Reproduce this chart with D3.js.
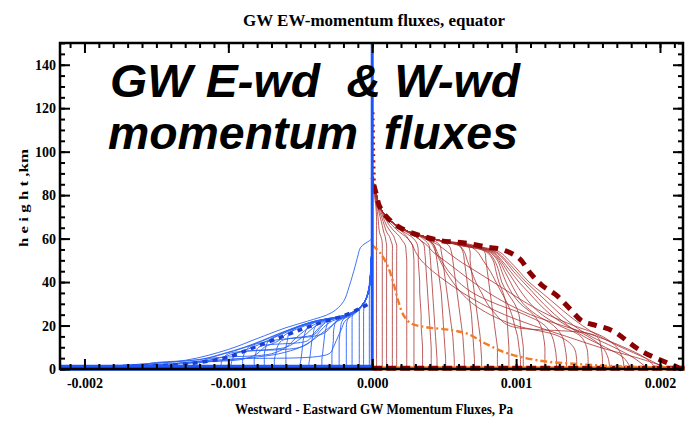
<!DOCTYPE html>
<html><head><meta charset="utf-8">
<script src="https://cdn.jsdelivr.net/npm/d3@7"></script>
<style>
html,body{margin:0;padding:0;background:#fff;}
svg{display:block;}
.serif{font-family:"Liberation Serif","Times New Roman",serif;font-weight:bold;}
</style></head>
<body>
<svg id="chart" width="685" height="422"></svg>
<script>
// ---------- DATA (flux values in units of 1e-4 Pa, heights in km) ----------
const UNIT = 1e-4;
const xTickValues = [-0.002, -0.001, 0, 0.001, 0.002];
const xTickLabels = ["-0.002", "-0.001", "0.000", "0.001", "0.002"];
const yTickValues = [0, 20, 40, 60, 80, 100, 120, 140];
const yTickLabels = ["0", "20", "40", "60", "80", "100", "120", "140"];

// Eastward (positive) flux profiles, sampled at these heights
const eastHeights = [0, 5, 10, 15, 20, 25, 30, 35, 40, 45, 50, 54, 57, 59, 61, 63, 66, 70, 75, 80, 85, 90];
const eastProfiles = [
  [0.3,0.3,0.3,0.3,0.3,0.3,0.3,0.3,0.3,0.3,0.3,0.3,0.3,0.3,0.3,0.3,0.3,0.3,0.25,0.15,0.05,0],
  [0.7,0.7,0.7,0.7,0.7,0.7,0.7,0.7,0.7,0.7,0.7,0.7,0.7,0.68,0.6,0.5,0.45,0.4,0.3,0.2,0.08,0],
  [1.0,1.0,1.0,1.0,1.0,1.0,1.0,1.0,1.0,1.0,1.0,1.0,1.0,0.95,0.9,0.8,0.7,0.55,0.35,0.22,0.08,0],
  [1.4,1.4,1.4,1.4,1.4,1.4,1.4,1.4,1.4,1.4,1.4,1.4,1.4,1.3,1.2,1.0,0.85,0.65,0.4,0.25,0.1,0],
  [1.7,1.7,1.7,1.7,1.7,1.7,1.7,1.7,1.7,1.7,1.7,1.7,1.7,1.6,1.5,1.3,1.0,0.75,0.45,0.27,0.1,0],
  [2.4,2.4,2.4,2.4,2.4,2.4,2.4,2.4,2.4,2.4,2.4,2.35,2.3,2.1,1.9,1.6,1.2,0.85,0.48,0.28,0.1,0],
  [2.9,2.9,2.9,2.9,2.9,2.9,2.9,2.9,2.9,2.9,2.9,2.85,2.8,2.6,2.3,1.9,1.4,0.9,0.5,0.3,0.1,0],
  [3.5,3.5,3.5,3.45,3.4,3.4,3.35,3.3,3.3,3.25,3.2,3.2,3.15,3.0,2.7,2.2,1.6,1.0,0.5,0.3,0.1,0],
  [4.1,4.1,4.1,4.05,4.0,3.95,3.9,3.85,3.8,3.75,3.7,3.65,3.6,3.4,3.0,2.5,1.7,1.0,0.5,0.3,0.1,0],
  [4.5,4.5,4.45,4.4,4.35,4.3,4.25,4.2,4.15,4.1,4.05,4.0,3.95,3.7,3.3,2.6,1.7,1.0,0.5,0.3,0.1,0],
  [5.1,5.1,5.05,5.0,4.95,4.9,4.85,4.8,4.7,4.6,4.5,4.4,4.3,4.0,3.5,2.6,1.7,1.0,0.5,0.3,0.1,0],
  [5.7,5.7,5.65,5.6,5.5,5.4,5.3,5.2,5.1,5.0,4.9,4.8,4.7,4.3,3.6,2.6,1.7,1.0,0.5,0.3,0.1,0],
  [6.4,6.4,6.35,6.3,6.2,6.1,6.0,5.9,5.8,5.7,5.6,5.5,5.3,4.6,3.6,2.6,1.7,1.0,0.5,0.3,0.1,0],
  [7.1,7.1,7.05,7.0,6.95,6.9,6.8,6.7,6.6,6.5,6.4,6.3,6.0,4.8,3.6,2.6,1.7,1.0,0.5,0.3,0.1,0],
  [7.6,7.6,7.55,7.5,7.4,7.3,7.2,7.1,7.0,6.9,6.8,6.8,6.6,4.8,3.6,2.6,1.7,1.0,0.5,0.3,0.1,0],
  [8.7,8.7,8.7,8.6,8.5,8.4,8.3,8.2,8.1,8.0,7.9,7.8,7.0,4.8,3.6,2.6,1.7,1.0,0.5,0.3,0.1,0],
  [9.5,9.5,9.5,9.45,9.4,9.35,9.3,9.1,8.8,8.6,8.4,7.9,6.0,4.8,3.6,2.6,1.7,1.0,0.5,0.3,0.1,0],
  [10.3,10.3,10.2,10.1,9.9,9.7,9.4,9.0,8.6,8.2,7.7,7.3,6.6,4.8,3.6,2.6,1.7,1.0,0.5,0.3,0.1,0],
  [10.5,10.5,10.5,10.4,10.3,10.2,9.9,9.4,9.0,8.8,8.5,8.0,6.0,4.8,3.6,2.6,1.7,1.0,0.5,0.3,0.1,0],
  [12.0,12.0,12.0,11.9,11.7,11.2,10.3,9.7,9.3,9.0,8.7,8.1,6.2,4.8,3.6,2.6,1.7,1.0,0.5,0.3,0.1,0],
  [12.8,12.8,12.7,12.5,12.0,10.6,8.6,7.0,6.0,5.3,4.8,4.5,4.3,4.0,3.5,2.6,1.7,1.0,0.5,0.3,0.1,0],
  [13.5,13.5,13.4,13.2,12.6,11.4,10.5,10.0,9.6,9.2,8.8,8.2,6.3,4.8,3.6,2.6,1.7,1.0,0.5,0.3,0.1,0],
  [14.2,14.2,14.0,13.0,10.0,8.2,7.0,6.2,5.6,5.1,4.7,4.4,4.2,3.9,3.4,2.6,1.7,1.0,0.5,0.3,0.1,0],
  [15.0,15.0,14.9,14.5,13.0,11.8,11.0,10.4,9.9,9.4,8.9,8.3,6.4,4.8,3.6,2.6,1.7,1.0,0.5,0.3,0.1,0],
  [16.0,16.0,15.9,15.6,9.5,8.6,8.0,7.6,7.2,6.9,6.6,6.4,6.0,4.8,3.6,2.6,1.7,1.0,0.5,0.3,0.1,0],
  [16.5,16.4,16.0,15.0,13.5,12.4,11.6,10.9,10.2,9.6,9.0,8.4,6.5,4.8,3.6,2.6,1.7,1.0,0.5,0.3,0.1,0],
  [17.5,17.4,17.0,16.0,14.0,12.2,10.8,9.6,8.4,7.2,6.0,5.2,4.6,4.0,3.4,2.6,1.7,1.0,0.5,0.3,0.1,0],
  [18.0,17.5,16.2,14.7,13.6,12.7,11.9,11.2,10.5,9.8,9.2,8.5,6.6,4.8,3.6,2.6,1.7,1.0,0.5,0.3,0.1,0],
  [19.2,18.2,16.8,15.2,14.0,13.1,12.3,11.5,10.7,10.0,9.3,8.6,6.7,4.8,3.6,2.6,1.7,1.0,0.5,0.3,0.1,0],
  [19.8,19.0,17.5,15.6,13.2,11.0,9.4,8.1,7.0,6.0,5.0,4.2,3.8,3.4,3.0,2.4,1.7,1.0,0.5,0.3,0.1,0],
  [20.5,19.0,17.3,15.8,14.6,13.6,12.7,11.8,10.9,10.2,9.5,8.8,6.8,4.8,3.6,2.6,1.7,1.0,0.5,0.3,0.1,0],
  [20.8,18.5,15.8,13.5,11.2,9.2,7.6,6.3,5.2,4.2,3.4,3.0,2.8,2.6,2.4,2.1,1.6,1.0,0.5,0.3,0.1,0]
];
// Thick dashed eastward envelope [flux, height]
const eastEnvelope = [[21.5,0],[20.8,2],[18.7,8.3],[16.7,17.6],[15.6,20],[14.6,22],[13.7,28],[12.8,34],[11.8,38.5],[11.0,44],[10.2,51],[9.0,55],[8.0,56],[6.9,57.5],[5.8,58.4],[4.8,59],[3.7,60.7],[2.6,63],[1.7,66],[1.0,70],[0.5,75],[0.3,80],[0.1,85],[0,88]];
// Orange dash-dot profile [flux, height]
const orangeProfile = [[0,57],[0.6,53],[1.1,47],[1.5,39],[1.8,31.5],[2.2,24.5],[2.7,21],[3.7,19.3],[5.6,17.8],[6.7,16],[7.9,11.6],[9.5,7],[11.8,3.7],[14.2,2.3],[16.5,1.4],[19.0,0.8],[21.5,0.5]];

// Westward (negative) flux profiles, sampled at these heights
const westHeights = [0, 1, 2.5, 4.5, 7, 10, 13, 16, 19, 22, 25, 28, 32, 37, 45, 52, 60];
const westProfiles = [
  [-0.2,-0.2,-0.2,-0.2,-0.2,-0.2,-0.2,-0.2,-0.2,-0.2,-0.2,-0.2,-0.2,-0.18,-0.1,-0.05,0],
  [-0.6,-0.6,-0.6,-0.6,-0.6,-0.6,-0.6,-0.6,-0.6,-0.6,-0.6,-0.58,-0.45,-0.25,-0.12,-0.05,0],
  [-0.9,-0.9,-0.9,-0.9,-0.9,-0.9,-0.9,-0.9,-0.9,-0.9,-0.9,-0.85,-0.45,-0.22,-0.1,-0.05,0],
  [-1.4,-1.4,-1.4,-1.4,-1.4,-1.4,-1.4,-1.4,-1.4,-1.4,-1.35,-0.9,-0.45,-0.22,-0.1,-0.05,0],
  [-1.8,-1.8,-1.8,-1.8,-1.8,-1.8,-1.8,-1.8,-1.8,-1.75,-1.5,-0.85,-0.45,-0.22,-0.1,-0.05,0],
  [-2.3,-2.3,-2.3,-2.3,-2.3,-2.3,-2.3,-2.25,-2.2,-2.1,-1.6,-0.9,-0.45,-0.22,-0.1,-0.05,0],
  [-2.8,-2.8,-2.8,-2.8,-2.8,-2.75,-2.7,-2.7,-2.65,-2.5,-1.6,-0.9,-0.45,-0.22,-0.1,-0.05,0],
  [-3.5,-3.5,-3.5,-3.5,-3.45,-3.4,-3.35,-3.3,-3.2,-3.0,-1.7,-0.9,-0.45,-0.22,-0.1,-0.05,0],
  [-4.4,-4.4,-4.4,-4.35,-4.3,-4.25,-4.2,-4.1,-4.0,-3.5,-1.8,-0.9,-0.45,-0.22,-0.1,-0.05,0],
  [-5.0,-5.0,-5.0,-4.95,-4.9,-4.85,-4.8,-4.7,-4.5,-3.8,-1.8,-0.9,-0.45,-0.22,-0.1,-0.05,0],
  [-6.0,-6.0,-6.0,-6.0,-6.0,-6.0,-5.9,-5.8,-5.3,-4.0,-1.8,-0.9,-0.45,-0.22,-0.1,-0.05,0],
  [-6.8,-6.8,-6.8,-6.8,-6.7,-6.6,-6.3,-4.0,-3.6,-3.1,-1.7,-0.9,-0.45,-0.22,-0.1,-0.05,0],
  [-7.5,-7.5,-7.5,-7.5,-7.5,-7.4,-7.2,-6.4,-5.4,-3.9,-1.7,-0.9,-0.45,-0.22,-0.1,-0.05,0],
  [-8.2,-8.2,-8.2,-8.2,-8.1,-7.9,-4.5,-4.1,-3.7,-3.2,-1.6,-0.9,-0.45,-0.22,-0.1,-0.05,0],
  [-9.0,-9.0,-9.0,-9.0,-8.9,-8.6,-7.0,-3.5,-2.9,-2.5,-1.5,-0.9,-0.45,-0.22,-0.1,-0.05,0],
  [-9.8,-9.8,-9.8,-9.7,-9.5,-6.0,-5.2,-4.6,-4.1,-3.3,-1.6,-0.9,-0.45,-0.22,-0.1,-0.05,0],
  [-10.5,-10.5,-10.5,-10.4,-10.0,-5.0,-4.2,-3.8,-3.4,-2.8,-1.5,-0.9,-0.45,-0.22,-0.1,-0.05,0],
  [-12.0,-12.0,-12.0,-11.5,-7.0,-6.0,-5.5,-5.0,-4.4,-3.5,-1.7,-0.9,-0.45,-0.22,-0.1,-0.05,0],
  [-13.0,-13.0,-12.8,-10.0,-3.0,-2.7,-2.5,-2.3,-2.1,-1.9,-1.3,-0.8,-0.45,-0.22,-0.1,-0.05,0],
  [-14.0,-14.0,-13.5,-9.0,-8.0,-7.5,-6.5,-6.0,-5.0,-3.8,-1.7,-0.9,-0.45,-0.22,-0.1,-0.05,0],
  [-16.0,-16.0,-15.5,-11.8,-10.3,-8.8,-7.6,-6.5,-5.3,-3.9,-1.6,-0.9,-0.45,-0.22,-0.1,-0.05,0],
  [-18.0,-17.5,-14.0,-11.0,-9.6,-8.3,-7.3,-6.3,-5.2,-3.8,-1.6,-0.9,-0.45,-0.22,-0.1,-0.05,0],
  [-20.0,-18.5,-15.6,-11.9,-10.4,-8.9,-7.7,-6.6,-5.4,-4.0,-1.6,-0.9,-0.45,-0.22,-0.1,-0.05,0],
  [-21.7,-19.5,-13.0,-9.5,-6.5,-5.0,-4.2,-3.6,-3.0,-2.4,-1.4,-0.9,-0.45,-0.22,-0.1,-0.05,0]
];
// Westward profile that bows out at upper levels [flux, height]
const westLoop = [[-21.0,0.5],[-18,1.5],[-13,4],[-10,9],[-8,14],[-6,19],[-4.5,22],[-2.8,26],[-2.0,31],[-1.6,38],[-1.2,47],[-1.0,52],[-0.8,56],[-0.2,59],[0,60]];
// Thick dashed westward envelope [flux, height]
const westEnvelope = [[-21.5,0.8],[-17,1.2],[-13.5,2],[-12,3],[-10,5.5],[-8.2,10],[-6.4,14.5],[-4.8,18.5],[-3.5,21.5],[-2,24.5],[-0.8,28],[0,31]];

// ---------- CHART ----------
const svg = d3.select("#chart");
const x = d3.scaleLinear().domain([-0.00217, 0.00216]).range([60, 683]);
const y = d3.scaleLinear().domain([0, 150]).range([369, 43]);

const line = d3.line()
  .x(d => x(d[0] * UNIT))
  .y(d => y(d[1]))
  .curve(d3.curveCatmullRom.alpha(0.5));

const plot = svg.append("g");

// eastward thin curves
plot.selectAll("path.east").data(eastProfiles).join("path")
  .attr("class", "east")
  .attr("d", vals => line(vals.map((v, i) => [v, eastHeights[i]])))
  .attr("fill", "none").attr("stroke", "#a52a2a").attr("stroke-width", 0.9).attr("stroke-opacity", 0.85);

// red dotted trace along the axis at upper levels
plot.append("path")
  .attr("d", line([[0.15, 84], [0.1, 100], [0.05, 120]]))
  .attr("fill", "none").attr("stroke", "#b01010").attr("stroke-width", 3).attr("stroke-dasharray", "2,4");

// bottom eastward thick line
plot.append("path")
  .attr("d", line([[0, 0.4], [21.7, 0.4]]))
  .attr("fill", "none").attr("stroke", "#ff7a1a").attr("stroke-width", 4);
plot.append("path")
  .attr("d", line([[0, 0.4], [21.7, 0.4]]))
  .attr("fill", "none").attr("stroke", "#8b0000").attr("stroke-width", 5).attr("stroke-dasharray", "10,4");

// orange dash-dot
plot.append("path")
  .attr("d", line(orangeProfile))
  .attr("fill", "none").attr("stroke", "#f57a22").attr("stroke-width", 2.4)
  .attr("stroke-dasharray", "7,3,2,3");

// eastward dashed envelope
plot.append("path")
  .attr("d", line(eastEnvelope))
  .attr("fill", "none").attr("stroke", "#8b0000").attr("stroke-width", 5)
  .attr("stroke-dasharray", "9,7");

// westward thin curves
plot.selectAll("path.west").data(westProfiles).join("path")
  .attr("class", "west")
  .attr("d", vals => line(vals.map((v, i) => [v, westHeights[i]])))
  .attr("fill", "none").attr("stroke", "#2a62f7").attr("stroke-width", 0.9);
plot.append("path")
  .attr("d", line(westLoop))
  .attr("fill", "none").attr("stroke", "#2a62f7").attr("stroke-width", 0.9);

// westward dashed envelope
plot.append("path")
  .attr("d", line(westEnvelope))
  .attr("fill", "none").attr("stroke", "#1d3fd0").attr("stroke-width", 3.5)
  .attr("stroke-dasharray", "5,5");

// bottom westward thick line
plot.append("path")
  .attr("d", line([[-21.7, 0.6], [0, 0.6]]))
  .attr("fill", "none").attr("stroke", "#1a55ff").attr("stroke-width", 6);

// vertical zero line
plot.append("path")
  .attr("d", line([[0, 0], [0, 150]]))
  .attr("fill", "none").attr("stroke", "#1a55ff").attr("stroke-width", 3);

// ---------- AXES ----------
const minorX = d3.range(-21, 22).map(v => v * UNIT);
const minorY = d3.range(0, 151, 5);

function styleAxis(g) {
  g.select(".domain").remove();
  g.selectAll(".tick line").attr("stroke", "#000").attr("stroke-width", 2);
  g.selectAll("text").attr("class", "serif").attr("font-size", 14).attr("fill", "#000");
}

// bottom
svg.append("g").attr("transform", "translate(0,369)")
  .call(d3.axisBottom(x).tickValues(minorX).tickSizeInner(-5).tickSizeOuter(0).tickFormat(""))
  .call(styleAxis);
svg.append("g").attr("transform", "translate(0,369)")
  .call(d3.axisBottom(x).tickValues(xTickValues).tickSizeInner(-10).tickSizeOuter(0)
        .tickPadding(9).tickFormat((d, i) => xTickLabels[i]))
  .call(styleAxis);
// top
svg.append("g").attr("transform", "translate(0,43)")
  .call(d3.axisTop(x).tickValues(minorX).tickSizeInner(-5).tickSizeOuter(0).tickFormat(""))
  .call(styleAxis);
svg.append("g").attr("transform", "translate(0,43)")
  .call(d3.axisTop(x).tickValues(xTickValues).tickSizeInner(-10).tickSizeOuter(0).tickFormat(""))
  .call(styleAxis);
// left
svg.append("g").attr("transform", "translate(60,0)")
  .call(d3.axisLeft(y).tickValues(minorY).tickSizeInner(-5).tickSizeOuter(0).tickFormat(""))
  .call(styleAxis);
svg.append("g").attr("transform", "translate(60,0)")
  .call(d3.axisLeft(y).tickValues(yTickValues).tickSizeInner(-10).tickSizeOuter(0)
        .tickPadding(4).tickFormat((d, i) => yTickLabels[i]))
  .call(styleAxis);
// right
svg.append("g").attr("transform", "translate(683,0)")
  .call(d3.axisRight(y).tickValues(minorY).tickSizeInner(-5).tickSizeOuter(0).tickFormat(""))
  .call(styleAxis);
svg.append("g").attr("transform", "translate(683,0)")
  .call(d3.axisRight(y).tickValues(yTickValues).tickSizeInner(-10).tickSizeOuter(0).tickFormat(""))
  .call(styleAxis);

// frame
svg.append("rect").attr("x", 60).attr("y", 43).attr("width", 623).attr("height", 326)
  .attr("fill", "none").attr("stroke", "#000").attr("stroke-width", 2.5);

// ---------- TEXT ----------
svg.append("text").attr("class", "serif")
  .attr("x", 374).attr("y", 26).attr("text-anchor", "middle")
  .attr("font-size", 17).attr("textLength", 262).attr("lengthAdjust", "spacingAndGlyphs")
  .text("GW EW-momentum fluxes, equator");

svg.append("text").attr("class", "serif")
  .attr("transform", "translate(28,198) rotate(-90)").attr("text-anchor", "middle")
  .attr("font-size", 13).attr("textLength", 98).attr("lengthAdjust", "spacingAndGlyphs")
  .text("h e i g h t ,km");

svg.append("text").attr("class", "serif")
  .attr("x", 374).attr("y", 414).attr("text-anchor", "middle")
  .attr("font-size", 15).attr("textLength", 278).attr("lengthAdjust", "spacingAndGlyphs")
  .text("Westward - Eastward GW Momentum Fluxes, Pa");

const big = svg.append("g")
  .attr("font-family", "'Liberation Sans', Arial, sans-serif")
  .attr("font-weight", "bold").attr("font-style", "italic").attr("font-size", 46);
big.append("text").attr("x", 110).attr("y", 97)
  .attr("textLength", 410).attr("lengthAdjust", "spacingAndGlyphs").text("GW E-wd\u00A0 & W-wd");
big.append("text").attr("x", 108).attr("y", 149)
  .attr("textLength", 410).attr("lengthAdjust", "spacingAndGlyphs").text("momentum\u00A0 fluxes");
</script>
</body></html>
